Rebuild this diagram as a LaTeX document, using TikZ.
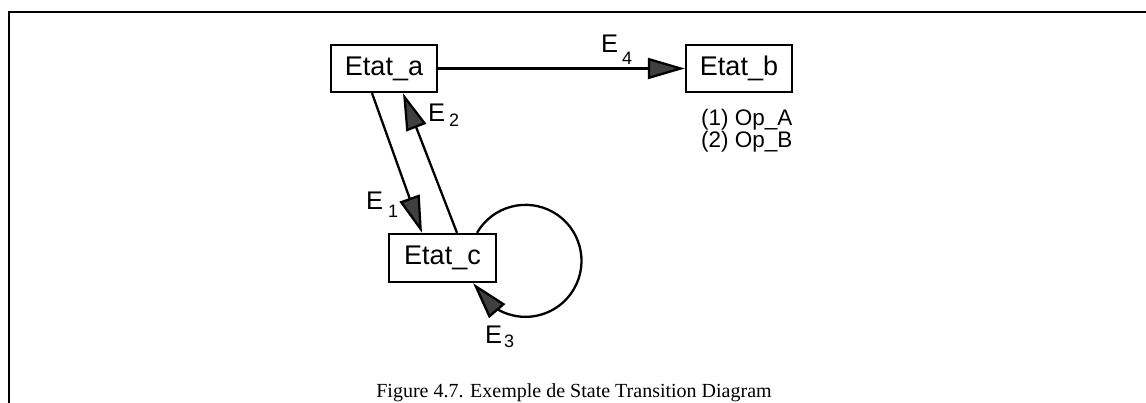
\documentclass[tikz,border=0pt]{standalone}
\usepackage{fontspec}
\setmainfont{Liberation Serif}
\newfontfamily\hv{Liberation Sans}
\usetikzlibrary{arrows.meta,calc}
\begin{document}
\begin{tikzpicture}[x=1pt,y=-1pt,
  state/.style={draw,line width=2.3pt,minimum width=106pt,minimum height=47pt,inner sep=0pt,font=\hv\fontsize{27}{27}\selectfont},
  trans/.style={line width=2.3pt,-{Triangle[length=37pt,width=21pt,fill=black!75]}},
  lbl/.style={inner sep=0pt,anchor=base west,font=\hv\fontsize{25.5}{25.5}\selectfont},
  frame/.style={line width=2.5pt}
]
\useasboundingbox (0,0) rectangle (1146,403);
\draw[frame] (9,403) -- (9,12) -- (1146,12);

\node[state] (a) at (384,68.5) {Etat\_a};
\node[state] (b) at (739,68.5) {Etat\_b};
\node[state,minimum width=107pt,minimum height=48pt] (c) at (442.5,258) {Etat\_c};

\draw[trans] (a.east) -- (b.west);
\draw[trans] ([xshift=-12pt]a.south) -- ([xshift=-20.5pt]c.north);
\draw[trans] ([xshift=14.5pt]c.north) -- ([xshift=19pt]a.south);
\draw[trans] ([xshift=34.5pt]c.north) arc[start angle=210,end angle=485,radius=56] -- ([xshift=30.5pt]c.south);

\node[lbl] (e4) at (601,53) {E\hspace{4pt}\raisebox{-12pt}{\fontsize{18}{18}\selectfont 4}};
\node[lbl] (e2) at (428,122) {E\hspace{4pt}\raisebox{-5pt}{\fontsize{18}{18}\selectfont 2}};
\node[lbl] (e1) at (366,210) {E\hspace{5pt}\raisebox{-8pt}{\fontsize{18}{18}\selectfont 1}};
\node[lbl] (e3) at (485,343) {E\hspace{2pt}\raisebox{-5pt}{\fontsize{18}{18}\selectfont 3}};

\node[anchor=north west,inner sep=0pt,align=left,font=\hv\fontsize{22.5}{17}\selectfont] (ops) at (701,109) {(1) Op\_A\\(2) Op\_B};

\node[anchor=base,inner sep=0pt,font=\fontsize{20}{20}\selectfont] (cap) at (574,397) {Figure 4.7. Exemple de State Transition Diagram};
\end{tikzpicture}
\end{document}
